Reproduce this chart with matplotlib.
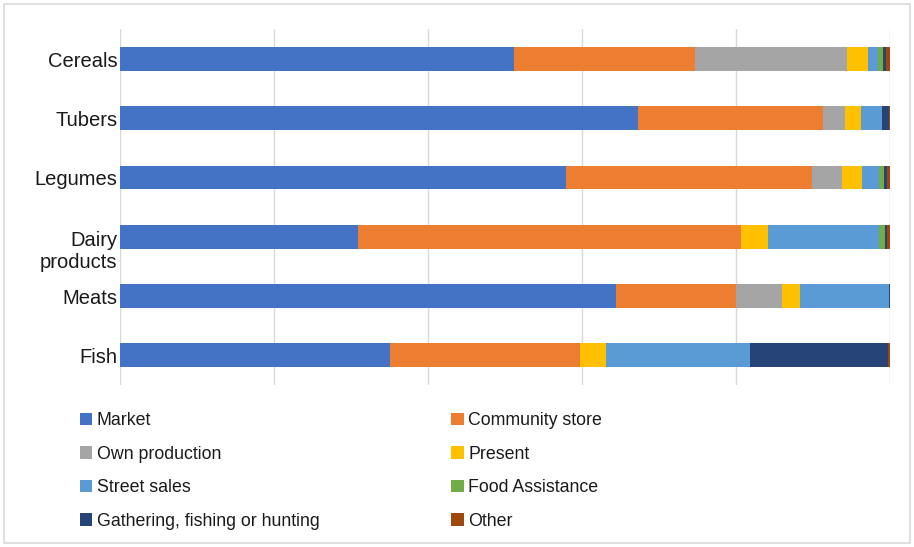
import numpy as np
import matplotlib.pyplot as plt
import matplotlib.transforms as mtransforms
from matplotlib.patches import Rectangle

plt.rcParams['font.family'] = ['Liberation Sans', 'DejaVu Sans']

# Share of each food group by source (percent)
categories = ["Cereals", "Tubers", "Legumes", "Dairy\nproducts", "Meats", "Fish"]
sources = ["Market", "Community store", "Own production", "Present",
           "Street sales", "Food Assistance", "Gathering, fishing or hunting", "Other"]
market = [51.1, 67.3, 57.9, 30.9, 64.4, 35.1]
community_store = [23.6, 24.0, 32.0, 49.7, 15.6, 24.6]
own_production = [19.7, 2.9, 3.8, 0.0, 6.0, 0.0]
present = [2.7, 2.0, 2.7, 3.6, 2.3, 3.4]
street_sales = [1.3, 2.7, 2.1, 14.3, 11.5, 18.7]
food_assistance = [0.7, 0.0, 0.7, 0.9, 0.0, 0.0]
gathering = [0.4, 1.0, 0.4, 0.2, 0.2, 17.9]
other = [0.5, 0.1, 0.4, 0.4, 0.0, 0.3]

series = [market, community_store, own_production, present,
          street_sales, food_assistance, gathering, other]
colors = ["#4472C4", "#ED7D31", "#A5A5A5", "#FFC000",
          "#5B9BD5", "#70AD47", "#264478", "#9E480E"]

fig = plt.figure(figsize=(9.14, 5.47), dpi=100)
ax = fig.add_axes([0.1313, 0.2962, 0.8425, 0.650])

y = np.arange(len(categories))
left = np.zeros(len(categories))
handles = []
for name, vals, c in zip(sources, series, colors):
    vals = np.array(vals)
    b = ax.barh(y, vals, left=left.copy(), height=0.4, color=c, label=name)
    handles.append(b)
    left += vals

ax.set_xlim(0, 100)
ax.set_ylim(len(categories) - 0.5, -0.5)
ax.set_xticks(np.arange(0, 101, 20))
ax.set_xticklabels([])
ax.tick_params(axis='both', length=0)
ax.grid(axis='x', color='#D9D9D9', linewidth=1)
ax.set_axisbelow(True)
for s in ax.spines.values():
    s.set_visible(False)

ax.set_yticks(y)
ax.set_yticklabels(categories, fontsize=14.5, color='#1a1a1a')
ax.tick_params(axis='y', pad=2)
# push the two-line label down so its first line sits on the bar
for lbl in ax.get_yticklabels():
    if "\n" in lbl.get_text():
        lbl.set_linespacing(1.15)
        lbl.set_transform(lbl.get_transform() +
                          mtransforms.ScaledTranslation(0, -11.5 / 100, fig.dpi_scale_trans))

# legend in row-major order across two columns
order = [0, 2, 4, 6, 1, 3, 5, 7]
fig.legend([handles[i] for i in order], [sources[i] for i in order],
           ncol=2, loc='upper left', bbox_to_anchor=(64 / 914, 1 - 396 / 547),
           frameon=False, fontsize=12.8, handlelength=0.7, handleheight=0.7,
           handletextpad=0.25, labelspacing=0.93, columnspacing=7.4,
           labelcolor='#1a1a1a')

fig.patches.append(Rectangle((4 / 914, 4 / 547), 906 / 914, 539 / 547,
                             transform=fig.transFigure, fill=False,
                             edgecolor='#D9D9D9', linewidth=1.2))

fig.savefig("out.png", dpi=100)
